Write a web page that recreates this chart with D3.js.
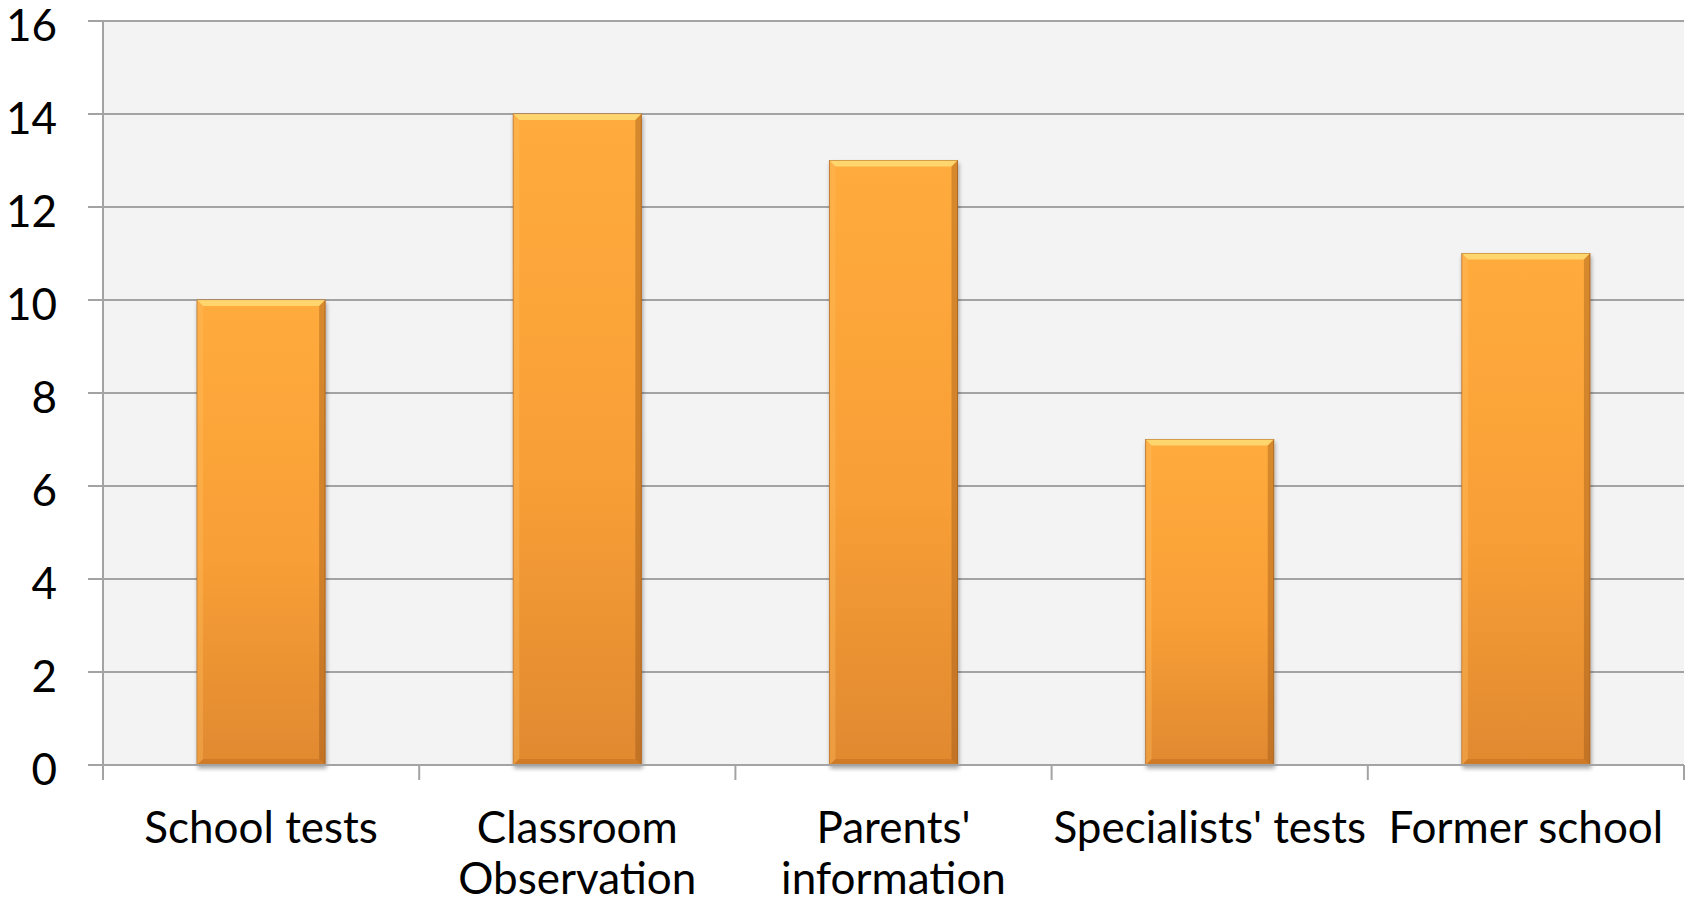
<!DOCTYPE html>
<html>
<head>
<meta charset="utf-8">
<script src="https://cdn.jsdelivr.net/npm/d3@7"></script>
<style>
  html, body { margin: 0; padding: 0; background: #ffffff; }
  svg { display: block; font-family: Lato, "Open Sans", sans-serif; }
</style>
</head>
<body>
<svg id="chart" width="1692" height="904"></svg>
<script>
// Sources of information used, count of responses
const categories = [["School tests"], ["Classroom", "Observation"], ["Parents'", "information"], ["Specialists' tests"], ["Former school"]];
const values = [10, 14, 13, 7, 11];
const yTicks = [0, 2, 4, 6, 8, 10, 12, 14, 16];

const svg = d3.select("#chart");
const plot = { left: 103, right: 1684, top: 21, bottom: 765 };

const x = d3.scaleBand()
  .domain(d3.range(values.length))
  .range([plot.left, plot.right])
  .paddingInner(0.595)
  .paddingOuter(0.2975);

const bandStep = (plot.right - plot.left) / values.length;

const y = d3.scaleLinear().domain([0, 16]).range([plot.bottom, plot.top]);

const defs = svg.append("defs");
const grad = defs.append("linearGradient")
  .attr("id", "barFill").attr("x1", 0).attr("y1", 0).attr("x2", 0).attr("y2", 1);
grad.append("stop").attr("offset", "0%").attr("stop-color", "#ffab3c");
grad.append("stop").attr("offset", "55%").attr("stop-color", "#f89f37");
grad.append("stop").attr("offset", "100%").attr("stop-color", "#e0892f");

const shadow = defs.append("filter").attr("id", "barShadow")
  .attr("x", "-10%").attr("y", "-10%").attr("width", "130%").attr("height", "130%");
shadow.append("feGaussianBlur").attr("in", "SourceAlpha").attr("stdDeviation", 2).attr("result", "b");
shadow.append("feOffset").attr("in", "b").attr("dx", 1).attr("dy", 3).attr("result", "o");
shadow.append("feComponentTransfer").attr("in", "o").attr("result", "s")
  .append("feFuncA").attr("type", "linear").attr("slope", 0.35);
const merge = shadow.append("feMerge");
merge.append("feMergeNode").attr("in", "s");
merge.append("feMergeNode").attr("in", "SourceGraphic");

// plot area background
svg.append("rect")
  .attr("x", plot.left).attr("y", plot.top)
  .attr("width", plot.right - plot.left).attr("height", plot.bottom - plot.top)
  .attr("fill", "#f3f3f3");

// horizontal gridlines with left tick stubs
svg.append("g")
  .selectAll("line")
  .data(yTicks)
  .join("line")
  .attr("x1", plot.left - 15).attr("x2", plot.right)
  .attr("y1", d => y(d)).attr("y2", d => y(d))
  .attr("stroke", "#a3a3a3").attr("stroke-width", 2);

// y axis line
svg.append("line")
  .attr("x1", plot.left).attr("x2", plot.left)
  .attr("y1", plot.top).attr("y2", plot.bottom + 15)
  .attr("stroke", "#a3a3a3").attr("stroke-width", 2);

// category boundary ticks on the x axis
svg.append("g")
  .selectAll("line")
  .data(d3.range(1, values.length + 1))
  .join("line")
  .attr("x1", i => plot.left + i * bandStep).attr("x2", i => plot.left + i * bandStep)
  .attr("y1", plot.bottom).attr("y2", plot.bottom + 15)
  .attr("stroke", "#a3a3a3").attr("stroke-width", 2);

// y tick labels
svg.append("g")
  .selectAll("text")
  .data(yTicks)
  .join("text")
  .attr("x", 57).attr("y", d => y(d))
  .attr("dy", "0.46em")
  .attr("text-anchor", "end")
  .attr("font-size", 44)
  .attr("fill", "#000")
  .text(d => d);

// bars with bevelled edges
const bev = 6;
const bars = svg.append("g")
  .selectAll("g")
  .data(values)
  .join("g");

bars.append("rect")
  .attr("x", (d, i) => x(i)).attr("y", d => y(d))
  .attr("width", x.bandwidth()).attr("height", d => y(0) - y(d))
  .attr("fill", "url(#barFill)")
  .attr("stroke", "#b8712a").attr("stroke-width", 1)
  .attr("filter", "url(#barShadow)");

// top highlight
bars.append("path")
  .attr("d", (d, i) => {
    const x0 = x(i), x1 = x(i) + x.bandwidth(), t = y(d);
    return `M${x0},${t}L${x1},${t}L${x1 - bev},${t + bev}L${x0 + bev},${t + bev}Z`;
  })
  .attr("fill", "#ffe07a").attr("opacity", 0.8);
// left edge
bars.append("path")
  .attr("d", (d, i) => {
    const x0 = x(i), t = y(d), b = y(0);
    return `M${x0},${t}L${x0 + bev},${t + bev}L${x0 + bev},${b - bev}L${x0},${b}Z`;
  })
  .attr("fill", "#ffc060").attr("opacity", 0.35);
// right edge
bars.append("path")
  .attr("d", (d, i) => {
    const x1 = x(i) + x.bandwidth(), t = y(d), b = y(0);
    return `M${x1},${t}L${x1 - bev},${t + bev}L${x1 - bev},${b - bev}L${x1},${b}Z`;
  })
  .attr("fill", "#8a4a10").attr("opacity", 0.35);
// bottom edge
bars.append("path")
  .attr("d", (d, i) => {
    const x0 = x(i), x1 = x(i) + x.bandwidth(), b = y(0);
    return `M${x0},${b}L${x1},${b}L${x1 - bev},${b - bev}L${x0 + bev},${b - bev}Z`;
  })
  .attr("fill", "#a85a15").attr("opacity", 0.3);

// redraw baseline over bar shadows
svg.append("line")
  .attr("x1", plot.left - 15).attr("x2", plot.right)
  .attr("y1", y(0)).attr("y2", y(0))
  .attr("stroke", "#a3a3a3").attr("stroke-width", 2);

// category labels
const labels = svg.append("g")
  .selectAll("text")
  .data(categories)
  .join("text")
  .attr("x", (d, i) => x(i) + x.bandwidth() / 2)
  .attr("y", 843)
  .attr("text-anchor", "middle")
  .attr("font-size", 44)
  .attr("fill", "#000");
labels.selectAll("tspan")
  .data(d => d)
  .join("tspan")
  .attr("x", function () { return d3.select(this.parentNode).attr("x"); })
  .attr("dy", (d, j) => j === 0 ? 0 : 51)
  .text(d => d);
</script>
</body>
</html>
